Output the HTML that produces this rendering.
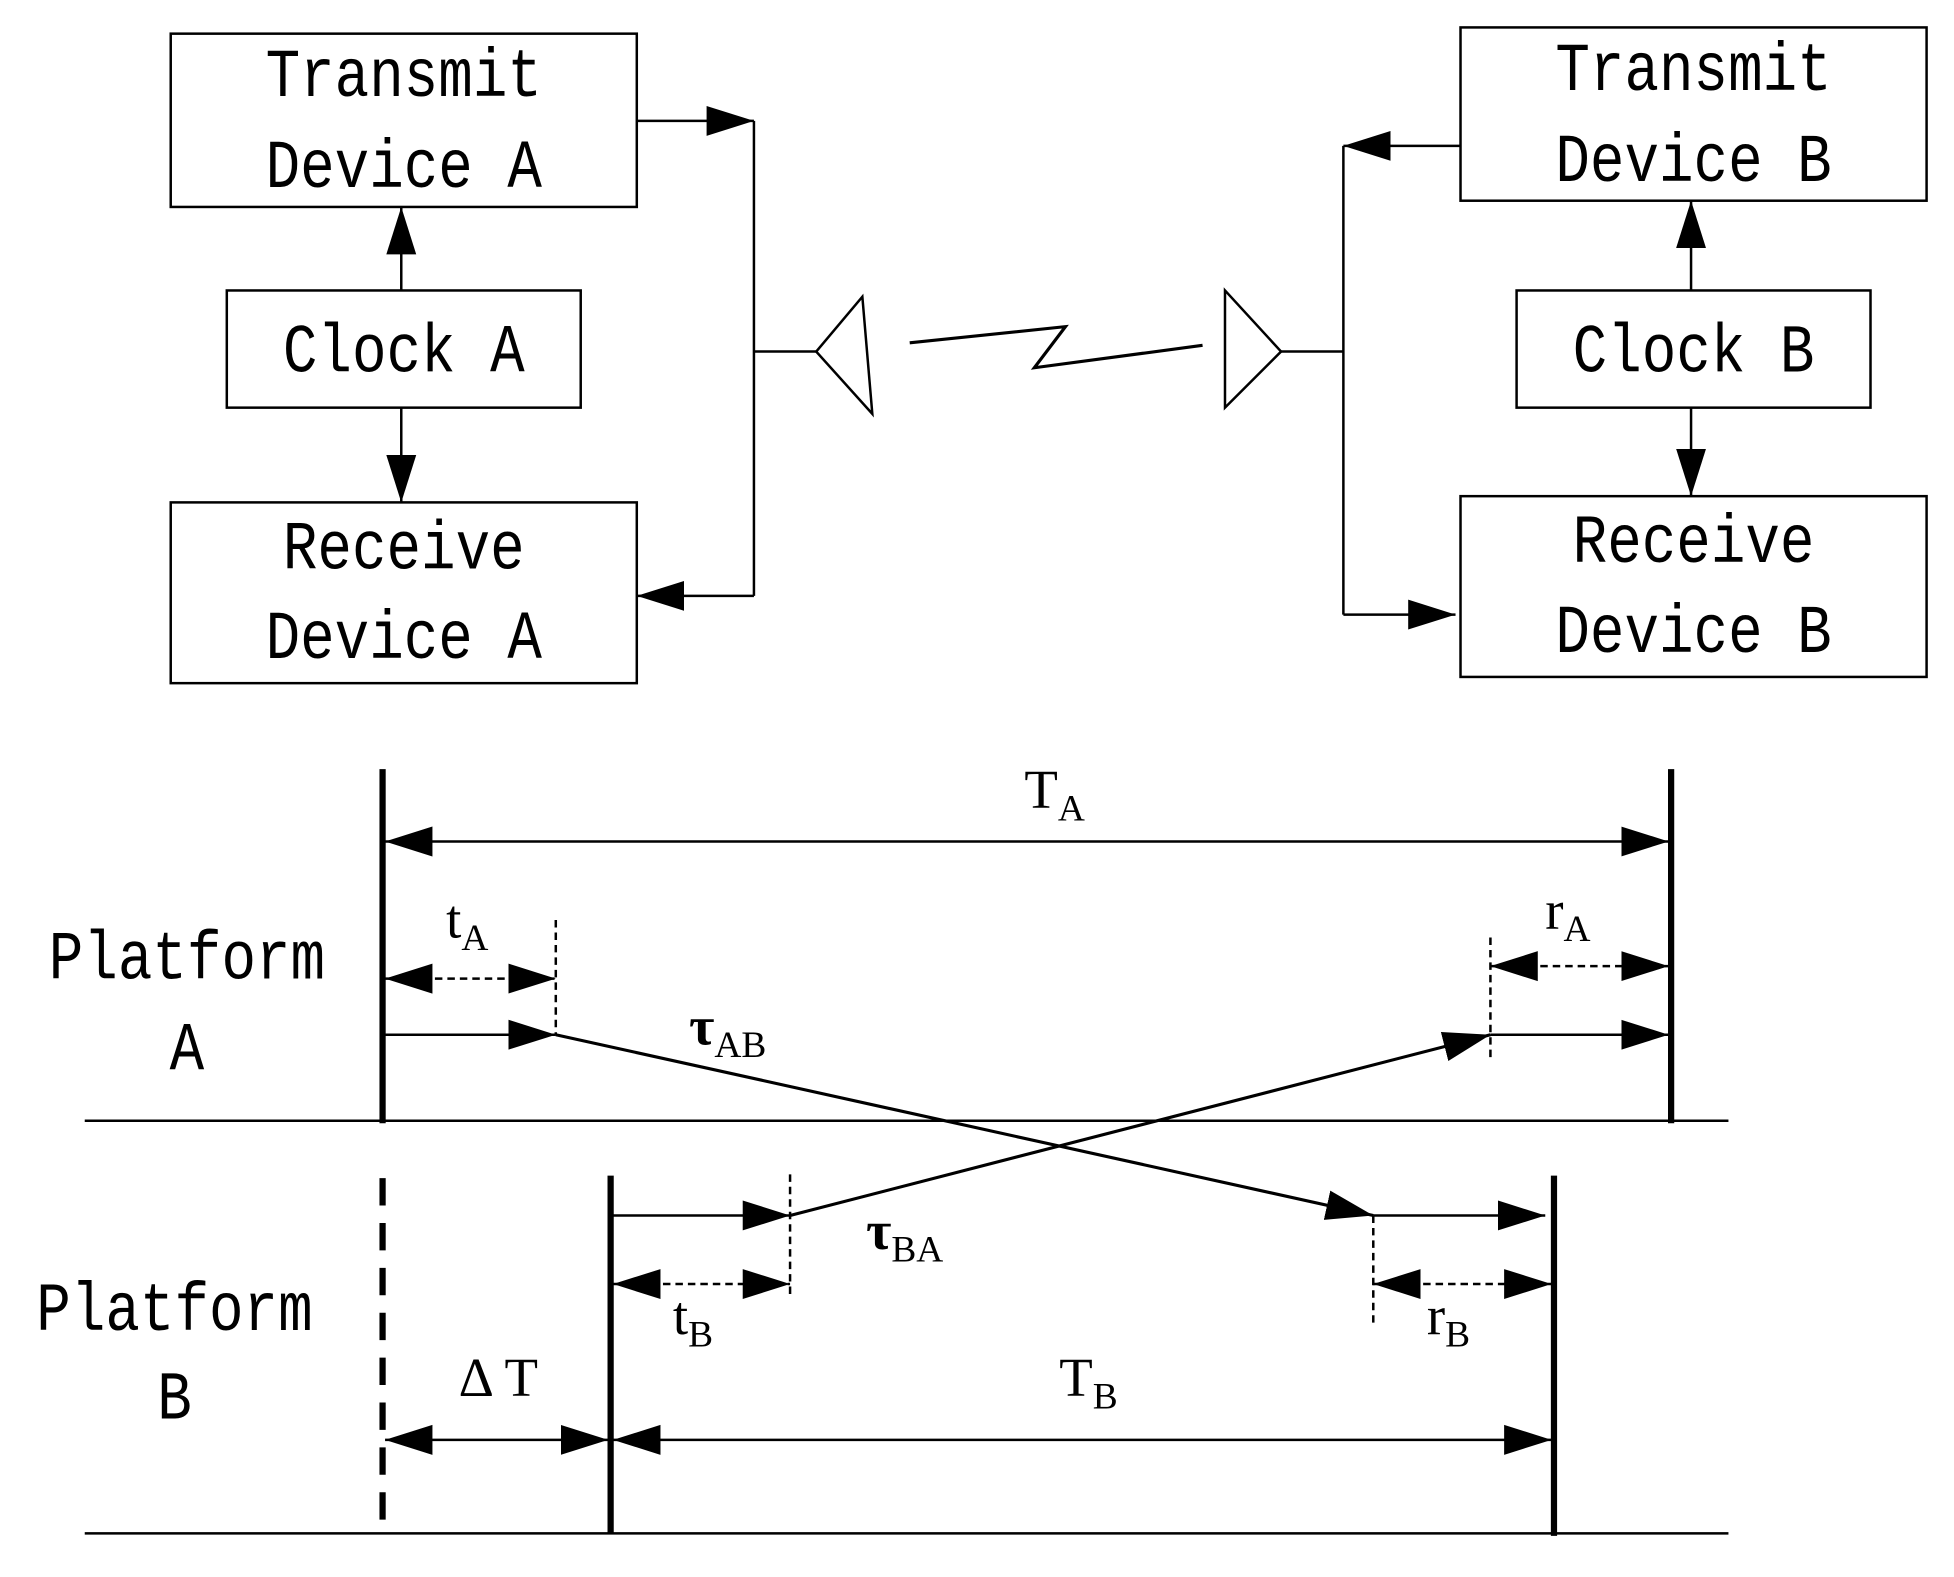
<!DOCTYPE html>
<html><head><meta charset="utf-8"><style>
html,body{margin:0;padding:0;background:#fff;}
svg{display:block;}
text{font-family:"Liberation Mono","DejaVu Sans Mono",monospace;fill:#000;}
</style></head><body>
<svg width="1954" height="1577" viewBox="0 0 1568 1265" preserveAspectRatio="none" xmlns="http://www.w3.org/2000/svg">
<defs>
<marker id="h" markerUnits="userSpaceOnUse" markerWidth="40" markerHeight="30" refX="38" refY="12" orient="auto-start-reverse" viewBox="0 0 40 24">
<path d="M0,0 L38,12 L0,24 Z" fill="#000"/></marker>
</defs>
<g fill="none" stroke="#000" stroke-width="2">
<rect x="137" y="27" width="374" height="139"/>
<rect x="182" y="233" width="284" height="94"/>
<rect x="137" y="403" width="374" height="145"/>
<rect x="1172" y="22" width="374" height="139"/>
<rect x="1217" y="233" width="284" height="94"/>
<rect x="1172" y="398" width="374" height="145"/>
<line x1="511" y1="97" x2="605" y2="97" marker-end="url(#h)"/>
<polyline points="605,97 605,478 605,478"/>
<line x1="605" y1="478" x2="511" y2="478" marker-end="url(#h)"/>
<line x1="605" y1="282" x2="655" y2="282"/>
<polygon points="655,282 692,238 700,332"/>
<polyline points="730,275 855,262 830,295 965,277" stroke-width="2.5"/>
<polygon points="983,233 1028,282 983,327"/>
<line x1="1028" y1="282" x2="1078" y2="282"/>
<line x1="1078" y1="117" x2="1078" y2="493"/>
<line x1="1172" y1="117" x2="1078" y2="117" marker-end="url(#h)"/>
<line x1="1078" y1="493" x2="1168" y2="493" marker-end="url(#h)"/>
<line x1="322" y1="233" x2="322" y2="166" marker-end="url(#h)"/>
<line x1="322" y1="327" x2="322" y2="403" marker-end="url(#h)"/>
<line x1="1357" y1="233" x2="1357" y2="161" marker-end="url(#h)"/>
<line x1="1357" y1="327" x2="1357" y2="398" marker-end="url(#h)"/>

<line x1="68" y1="899" x2="1387" y2="899"/>
<line x1="68" y1="1230" x2="1387" y2="1230"/>
<line x1="307" y1="617" x2="307" y2="901" stroke-width="5"/>
<line x1="1341" y1="617" x2="1341" y2="901" stroke-width="5"/>
<line x1="307" y1="945" x2="307" y2="1232" stroke-width="5" stroke-dasharray="22,14"/>
<line x1="490" y1="943" x2="490" y2="1230" stroke-width="5"/>
<line x1="1247" y1="943" x2="1247" y2="1232" stroke-width="5"/>

<line x1="309" y1="675" x2="1339" y2="675" marker-start="url(#h)" marker-end="url(#h)"/>
<line x1="446" y1="738" x2="446" y2="830" stroke-dasharray="6,4"/>
<line x1="309" y1="785" x2="446" y2="785" stroke-dasharray="6,4" marker-start="url(#h)" marker-end="url(#h)"/>
<line x1="309" y1="830" x2="446" y2="830" marker-end="url(#h)"/>
<line x1="446" y1="830" x2="1102" y2="975" marker-end="url(#h)" stroke-width="2.5"/>
<line x1="1196" y1="752" x2="1196" y2="850" stroke-dasharray="6,4"/>
<line x1="1196" y1="775" x2="1339" y2="775" stroke-dasharray="6,4" marker-start="url(#h)" marker-end="url(#h)"/>
<line x1="1196" y1="830" x2="1339" y2="830" marker-end="url(#h)"/>
<line x1="634" y1="975" x2="1196" y2="830" marker-end="url(#h)" stroke-width="2.5"/>
<line x1="492" y1="975" x2="634" y2="975" marker-end="url(#h)"/>
<line x1="634" y1="942" x2="634" y2="1040" stroke-dasharray="6,4"/>
<line x1="492" y1="1030" x2="634" y2="1030" stroke-dasharray="6,4" marker-start="url(#h)" marker-end="url(#h)"/>
<line x1="1102" y1="975" x2="1240" y2="975" marker-end="url(#h)"/>
<line x1="1102" y1="975" x2="1102" y2="1065" stroke-dasharray="6,4"/>
<line x1="1102" y1="1030" x2="1245" y2="1030" stroke-dasharray="6,4" marker-start="url(#h)" marker-end="url(#h)"/>
<line x1="309" y1="1155" x2="488" y2="1155" marker-start="url(#h)" marker-end="url(#h)"/>
<line x1="492" y1="1155" x2="1245" y2="1155" marker-start="url(#h)" marker-end="url(#h)"/>
</g>
<g font-size="44" text-anchor="middle">
<text transform="translate(324,77) scale(1.05,1.25)">Transmit</text>
<text transform="translate(324,150) scale(1.05,1.25)">Device A</text>
<text transform="translate(324,298) scale(1.05,1.25)">Clock A</text>
<text transform="translate(324,456) scale(1.05,1.25)">Receive</text>
<text transform="translate(324,528) scale(1.05,1.25)">Device A</text>
<text transform="translate(1359,72) scale(1.05,1.25)">Transmit</text>
<text transform="translate(1359,145) scale(1.05,1.25)">Device B</text>
<text transform="translate(1359,298) scale(1.05,1.25)">Clock B</text>
<text transform="translate(1359,451) scale(1.05,1.25)">Receive</text>
<text transform="translate(1359,523) scale(1.05,1.25)">Device B</text>
<text transform="translate(150,785) scale(1.05,1.25)">Platform</text>
<text transform="translate(150,858) scale(1.05,1.25)">A</text>
<text transform="translate(140,1067) scale(1.05,1.25)">Platform</text>
<text transform="translate(140,1138) scale(1.05,1.25)">B</text>
</g>
<g font-size="44">
<text x="822" y="648" style="font-family:'Liberation Serif',serif">T<tspan font-size="30" dy="10">A</tspan></text>
<text x="358" y="752" style="font-family:'Liberation Serif',serif">t<tspan font-size="30" dy="10">A</tspan></text>
<text x="1240" y="745" style="font-family:'Liberation Serif',serif">r<tspan font-size="30" dy="10">A</tspan></text>
<text x="553" y="838" style="font-family:'Liberation Serif',serif" font-weight="bold">τ<tspan font-size="30" font-weight="normal" dy="10">AB</tspan></text>
<text x="695" y="1002" style="font-family:'Liberation Serif',serif" font-weight="bold">τ<tspan font-size="30" font-weight="normal" dy="10">BA</tspan></text>
<text x="540" y="1070" style="font-family:'Liberation Serif',serif">t<tspan font-size="30" dy="10">B</tspan></text>
<text x="1145" y="1070" style="font-family:'Liberation Serif',serif">r<tspan font-size="30" dy="10">B</tspan></text>
<text x="368" y="1120" style="font-family:'Liberation Serif',serif">Δ T</text>
<text x="850" y="1120" style="font-family:'Liberation Serif',serif">T<tspan font-size="30" dy="10">B</tspan></text>
</g>
</svg>
</body></html>
